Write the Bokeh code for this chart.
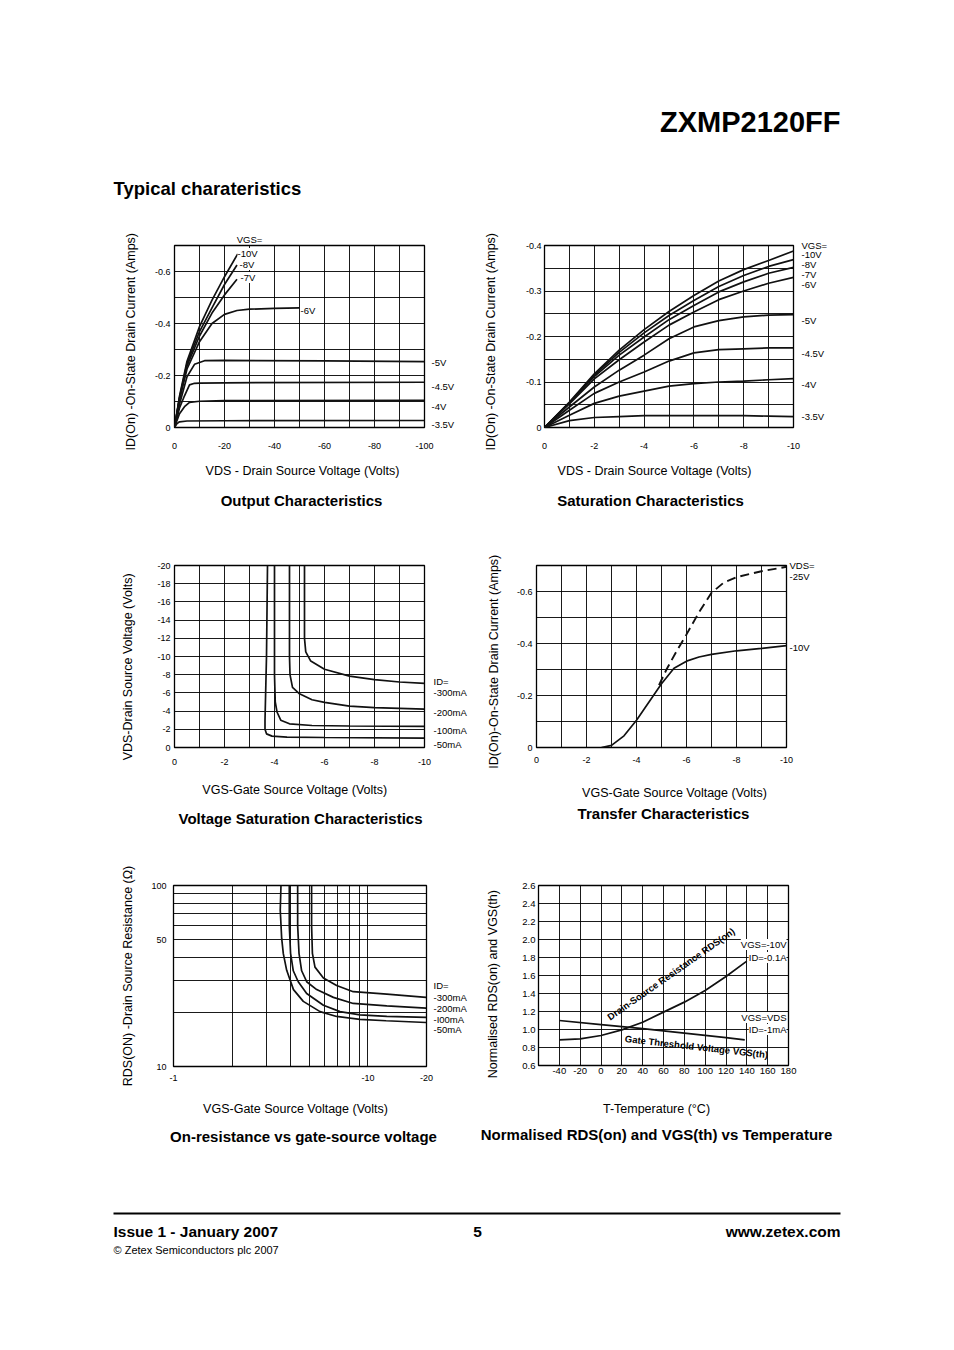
from math import pi, log10
from bokeh.plotting import figure
from bokeh.models import Range1d, FixedTicker, Label, LinearAxis, LogAxis, Spacer
from bokeh.layouts import column, row
from bokeh.embed import file_html
from bokeh.resources import INLINE

FONT = "Liberation Sans"
INK = "#111111"

# ---------------- data ----------------
# 1. Output characteristics  (VDS in V, ID in A), one curve per VGS
out_names = ["-10V", "-8V", "-7V", "-6V", "-5V", "-4.5V", "-4V", "-3.5V"]
out_vds = [
    [0, -2, -5, -10, -15, -20, -25.3],
    [0, -2, -5, -10, -15, -20, -25],
    [0, -2, -5, -10, -15, -20, -25],
    [0, -2, -5, -10, -15, -20, -25, -30, -40, -50],
    [0, -2, -5, -8, -10, -12, -20, -60, -100],
    [0, -2, -4, -6, -8, -10, -20, -100],
    [0, -1, -2, -4, -6, -10, -20, -100],
    [0, -1, -2, -5, -20, -100],
]
out_id = [
    [0, -0.12, -0.255, -0.388, -0.49, -0.58, -0.668],
    [0, -0.115, -0.246, -0.369, -0.46, -0.55, -0.625],
    [0, -0.112, -0.237, -0.352, -0.44, -0.51, -0.57],
    [0, -0.107, -0.225, -0.330, -0.40, -0.435, -0.45, -0.455, -0.458, -0.46],
    [0, -0.089, -0.195, -0.243, -0.250, -0.257, -0.258, -0.256, -0.253],
    [0, -0.075, -0.122, -0.164, -0.170, -0.171, -0.172, -0.174],
    [0, -0.027, -0.053, -0.080, -0.097, -0.101, -0.103, -0.104],
    [0, -0.015, -0.022, -0.025, -0.026, -0.027],
]

# 2. Saturation characteristics
sat_names = ["-10V", "-8V", "-7V", "-6V", "-5V", "-4.5V", "-4V", "-3.5V"]
sat_vds = [0, -1, -2, -3, -4, -5, -6, -7, -8, -9, -10]
sat_id = [
    [0, -0.056, -0.118, -0.170, -0.215, -0.255, -0.290, -0.322, -0.347, -0.367, -0.388],
    [0, -0.055, -0.115, -0.165, -0.208, -0.246, -0.279, -0.310, -0.334, -0.354, -0.369],
    [0, -0.054, -0.112, -0.159, -0.199, -0.237, -0.268, -0.298, -0.320, -0.339, -0.352],
    [0, -0.052, -0.107, -0.149, -0.188, -0.225, -0.254, -0.281, -0.300, -0.317, -0.330],
    [0, -0.045, -0.089, -0.126, -0.159, -0.195, -0.221, -0.235, -0.243, -0.247, -0.248],
    [0, -0.038, -0.075, -0.100, -0.122, -0.146, -0.164, -0.171, -0.173, -0.175, -0.175],
    [0, -0.027, -0.053, -0.069, -0.080, -0.091, -0.0965, -0.100, -0.102, -0.105, -0.1075],
    [0, -0.015, -0.022, -0.024, -0.026, -0.026, -0.026, -0.026, -0.026, -0.025, -0.024],
]

# 3. Voltage saturation characteristics (VGS -> VDS), one curve per ID
vsat_names = ["-300mA", "-200mA", "-100mA", "-50mA"]
vsat_vgs = [
    [-5.2, -5.2, -5.25, -5.45, -6.0, -7.0, -8.0, -9.0, -10.0],
    [-4.6, -4.6, -4.62, -4.72, -5.0, -5.5, -6.0, -7.0, -8.0, -10.0],
    [-4.0, -4.0, -4.03, -4.1, -4.25, -4.6, -5.5, -7.0, -10.0],
    [-3.72, -3.68, -3.62, -3.62, -3.68, -3.9, -4.5, -6.0, -10.0],
]
vsat_vds = [
    [-20, -12, -10.5, -9.5, -8.6, -7.85, -7.45, -7.2, -7.05],
    [-20, -10, -8.0, -6.6, -5.9, -5.25, -4.95, -4.55, -4.38, -4.22],
    [-20, -8, -5.0, -3.9, -3.0, -2.6, -2.42, -2.36, -2.32],
    [-20, -10, -3.0, -2.0, -1.5, -1.25, -1.15, -1.1, -1.03],
]

# 4. Transfer characteristics
tr_vgs_10 = [-2.6, -3.0, -3.5, -4.0, -4.5, -5.0, -5.5, -6.0, -6.5, -7.0, -8.0, -9.0, -10.0]
tr_id_10 = [0, -0.008, -0.045, -0.105, -0.175, -0.245, -0.305, -0.332, -0.348, -0.358, -0.372, -0.381, -0.392]
tr_vgs_25 = [-4.9, -5.2, -5.6, -6.0, -6.5, -7.0, -7.5, -8.0, -9.0, -10.0]
tr_id_25 = [-0.24, -0.30, -0.37, -0.435, -0.52, -0.595, -0.635, -0.655, -0.678, -0.695]

# 5. On-resistance vs gate-source voltage (|VGS| in V, RDS in ohm)
ron_names = ["-300mA", "-200mA", "-I00mA", "-50mA"]
ron_vgs = [
    [5.13, 5.13, 5.18, 5.34, 5.9, 6.9, 8.4, 12.5, 19.9],
    [4.35, 4.35, 4.42, 4.56, 4.84, 5.45, 6.64, 8.4, 12.5, 19.9],
    [3.94, 3.94, 4.0, 4.13, 4.38, 4.84, 5.9, 7.18, 9.1, 12.5, 19.9],
    [3.57, 3.54, 3.60, 3.67, 3.82, 4.14, 4.65, 5.67, 6.9, 9.1, 12.4, 19.9],
]
ron_r = [
    [100, 60, 42.2, 35.4, 30.8, 28.0, 25.9, 25.1, 24.1],
    [100, 60, 42.2, 33.8, 29.4, 26.6, 24.1, 22.3, 21.6, 21.0],
    [100, 60, 42.2, 33.8, 29.4, 25.3, 21.8, 20.1, 19.3, 18.9, 18.7],
    [100, 73, 51, 42, 34, 26.6, 22.9, 20.1, 18.9, 18.2, 17.9, 17.5],
]

# 6. Normalised RDS(on) and VGS(th) vs temperature
temp_rds = [-40, -20, 0, 20, 40, 60, 80, 100, 120, 140]
norm_rds = [0.885, 0.896, 0.933, 0.996, 1.081, 1.193, 1.304, 1.433, 1.589, 1.76]
temp_vth = [-40, 0, 40, 80, 120, 138]
norm_vth = [1.10, 1.055, 1.01, 0.96, 0.91, 0.885]


# ---------------- helpers ----------------
AX = "12.5px"
CAP = "15px"
NB = "\u00a0"


def chart(xr, yr, fw, fh, bl, br, bt, bb, xtype="linear", ytype="linear"):
    p = figure(x_range=xr, y_range=yr, frame_width=fw, frame_height=fh,
               min_border_left=bl, min_border_right=br, min_border_top=bt, min_border_bottom=bb,
               x_axis_type=xtype, y_axis_type=ytype, output_backend="svg", toolbar_location=None)
    p.background_fill_color = "white"
    p.border_fill_color = "white"
    p.outline_line_color = "black"
    p.outline_line_width = 1.3
    p.outline_line_alpha = 1.0
    return p


def plain_axis(ax, size="9px", standoff=4):
    ax.axis_line_color = None
    ax.major_tick_line_color = None
    ax.minor_tick_line_color = None
    ax.major_tick_in = 0
    ax.major_tick_out = 0
    ax.minor_tick_in = 0
    ax.minor_tick_out = 0
    ax.major_label_text_font = FONT
    ax.major_label_text_font_size = size
    ax.major_label_text_color = "black"
    ax.major_label_standoff = standoff


def axes(p, xt, xl, xg, yt, yl, yg, xs, ys, ylabel, ylab_standoff, size="9px"):
    p.xaxis.ticker = FixedTicker(ticks=xt)
    p.xaxis.major_label_overrides = dict(zip(xt, xl))
    p.yaxis.ticker = FixedTicker(ticks=yt)
    p.yaxis.major_label_overrides = dict(zip(yt, yl))
    p.xgrid.ticker = FixedTicker(ticks=xg)
    p.ygrid.ticker = FixedTicker(ticks=yg)
    p.grid.grid_line_color = "black"
    p.grid.grid_line_alpha = 1.0
    p.grid.grid_line_width = 0.9
    plain_axis(p.xaxis[0], size, xs)
    plain_axis(p.yaxis[0], size, ys)
    ya = p.yaxis[0]
    ya.axis_label = ylabel
    ya.axis_label_standoff = ylab_standoff
    ya.axis_label_text_font = FONT
    ya.axis_label_text_font_size = AX
    ya.axis_label_text_font_style = "normal"
    ya.axis_label_text_color = "black"


def side_labels(p, ticks, names, standoff, side="right", log=False):
    """An extra axis used only to write curve names next to the frame."""
    ax = LogAxis() if log else LinearAxis()
    ax.ticker = FixedTicker(ticks=ticks)
    ax.major_label_overrides = dict(zip(ticks, names))
    plain_axis(ax, "9.5px", standoff)
    p.add_layout(ax, side)


def y_at(frame_bottom, frame_h, rng, py, log=False):
    """Value on a y range that sits at screen row py."""
    f = (frame_bottom - py) / frame_h
    if log:
        return 10 ** (log10(rng[0]) + f * (log10(rng[1]) - log10(rng[0])))
    return rng[0] + f * (rng[1] - rng[0])


def inlab(p, frame, px, py, text, size="9.5px", align="left", bg="white"):
    fl, fb = frame
    lab = Label(x=px - fl, y=fb - py, x_units="screen", y_units="screen", text=text,
                text_font=FONT, text_font_size=size, text_align=align,
                text_baseline="middle", text_color="black")
    if bg:
        lab.background_fill_color = bg
    p.add_layout(lab)


def page_fig(x0, x1, y0, y1):
    p = figure(width=x1 - x0, height=y1 - y0, x_range=Range1d(x0, x1), y_range=Range1d(y1, y0),
               x_axis_location=None, y_axis_location=None, output_backend="svg",
               toolbar_location=None, min_border=0)
    p.xgrid.visible = False
    p.ygrid.visible = False
    p.outline_line_color = None
    p.background_fill_color = "white"
    p.border_fill_color = "white"
    return p


def ptxt(p, x, y, text, size, style="normal", align="left", angle=0.0):
    p.add_layout(Label(x=x, y=y, text=text, text_font=FONT, text_font_size=size,
                       text_font_style=style, text_align=align, text_baseline="middle",
                       text_color="black", angle=angle))


# ---------------- chart 1 ----------------
F1 = (174, 427)
R1 = (0, -0.7)
p1 = chart(Range1d(0, -100), Range1d(*R1), 250, 182, 74, 46, 30, 30)
axes(p1, [0, -20, -40, -60, -80, -100], ["0", "-20", "-40", "-60", "-80", "-100"],
     [0, -10, -20, -30, -40, -50, -60, -70, -80, -90, -100],
     [0, -0.2, -0.4, -0.6], ["0", "-0.2", "-0.4", "-0.6"],
     [0, -0.1, -0.2, -0.3, -0.4, -0.5, -0.6, -0.7], 15, 4,
     "ID(On) -On-State Drain Current (Amps)" + NB * 3, 14)
for xs, ys in zip(out_vds, out_id):
    p1.line(xs, ys, line_color=INK, line_width=1.7)
for name, (px, py) in zip(out_names[:4], [(237, 253), (239, 264), (240, 277), (300, 310)]):
    inlab(p1, F1, px, py, name)
side_labels(p1, [y_at(427, 182, R1, v) for v in (362, 386, 406, 424)], out_names[4:], 7)
side_labels(p1, [-30], ["VGS="], 1, side="above")

# ---------------- chart 2 ----------------
R2 = (0, -0.4)
p2 = chart(Range1d(0, -10), Range1d(*R2), 249, 182, 74, 45, 30, 30)
axes(p2, [0, -2, -4, -6, -8, -10], ["0", "-2", "-4", "-6", "-8", "-10"],
     [0, -1, -2, -3, -4, -5, -6, -7, -8, -9, -10],
     [0, -0.1, -0.2, -0.3, -0.4], ["0", "-0.1", "-0.2", "-0.3", "-0.4"],
     [0, -0.05, -0.1, -0.15, -0.2, -0.25, -0.3, -0.35, -0.4], 15, 3,
     "ID(On) -On-State Drain Current (Amps)" + NB * 3, 25)
for ys in sat_id:
    p2.line(sat_vds, ys, line_color=INK, line_width=1.7)
side_labels(p2, [y_at(427, 182, R2, v) for v in (245, 254, 264, 274, 284, 320, 353, 384, 416)],
            ["VGS="] + sat_names, 8)

# ---------------- chart 3 ----------------
R3 = (0, -20)
p3 = chart(Range1d(0, -10), Range1d(*R3), 250, 182, 74, 46, 30, 30)
axes(p3, [0, -2, -4, -6, -8, -10], ["0", "-2", "-4", "-6", "-8", "-10"],
     [0, -1, -2, -3, -4, -5, -6, -7, -8, -9, -10],
     [0, -2, -4, -6, -8, -10, -12, -14, -16, -18, -20],
     ["0", "-2", "-4", "-6", "-8", "-10", "-12", "-14", "-16", "-18", "-20"],
     [0, -2, -4, -6, -8, -10, -12, -14, -16, -18, -20], 11, 4,
     "VDS-Drain Source  Voltage (Volts)" + NB * 5, 19)
for xs, ys in zip(vsat_vgs, vsat_vds):
    p3.line(xs, ys, line_color=INK, line_width=1.7)
side_labels(p3, [y_at(747, 182, R3, v) for v in (681, 692, 712, 730, 744)],
            ["ID="] + vsat_names, 9)

# ---------------- chart 4 ----------------
R4 = (0, -0.7)
p4 = chart(Range1d(0, -10), Range1d(*R4), 250, 182, 66, 52, 30, 30)
axes(p4, [0, -2, -4, -6, -8, -10], ["0", "-2", "-4", "-6", "-8", "-10"],
     [0, -1, -2, -3, -4, -5, -6, -7, -8, -9, -10],
     [0, -0.2, -0.4, -0.6], ["0", "-0.2", "-0.4", "-0.6"],
     [0, -0.1, -0.2, -0.3, -0.4, -0.5, -0.6, -0.7], 9, 4,
     "ID(On)-On-State Drain Current  (Amps)" + NB * 2, 13)
p4.line(tr_vgs_10, tr_id_10, line_color=INK, line_width=1.7)
p4.line(tr_vgs_25, tr_id_25, line_color=INK, line_width=1.9, line_dash="9 5")
side_labels(p4, [y_at(747, 182, R4, v) for v in (565, 576, 647)], ["VDS=", "-25V", "-10V"], 3)

# ---------------- chart 5 ----------------
R5 = (10, 100)
p5 = chart(Range1d(1, 20), Range1d(*R5), 253, 181, 73, 44, 33, 30, xtype="log", ytype="log")
axes(p5, [1, 10, 20], ["-1", "-10", "-20"], [1, 2, 3, 4, 5, 6, 7, 8, 9, 10, 20],
     [10, 50, 100], ["10", "50", "100"], [10, 20, 30, 40, 50, 60, 70, 80, 90, 100], 8, 7,
     "RDS(ON) -Drain Source Resistance (\u03a9)", 13)
for xs, ys in zip(ron_vgs, ron_r):
    p5.line(xs, ys, line_color=INK, line_width=1.7)
side_labels(p5, [y_at(1064, 181, R5, v, log=True) for v in (983, 995, 1006, 1017, 1027)],
            ["ID="] + ron_names, 7, log=True)

# ---------------- chart 6 ----------------
F6 = (538, 1065)
p6 = chart(Range1d(-60, 180), Range1d(0.6, 2.6), 250, 180, 68, 50, 35, 29)
yt6 = [0.6, 0.8, 1.0, 1.2, 1.4, 1.6, 1.8, 2.0, 2.2, 2.4, 2.6]
xt6 = [-40, -20, 0, 20, 40, 60, 80, 100, 120, 140, 160, 180]
axes(p6, xt6, [str(v) for v in xt6], [-60] + xt6,
     yt6, ["%.1f" % v for v in yt6], yt6, 2, 3,
     "Normalised RDS(on) and VGS(th)" + NB * 5, 19, size="9.5px")
p6.line(temp_rds, norm_rds, line_color=INK, line_width=1.7)
p6.line(temp_vth, norm_vth, line_color=INK, line_width=1.7)
p6.add_layout(Label(x=7, y=1.13, text="Drain-Source Resistance RDS(on)", angle=35 * pi / 180,
                    text_font=FONT, text_font_size="9.5px", text_font_style="bold",
                    text_baseline="middle", text_color="black"))
p6.add_layout(Label(x=23, y=0.90, text="Gate Threshold Voltage VGS(th)", angle=-6.5 * pi / 180,
                    text_font=FONT, text_font_size="9.5px", text_font_style="bold",
                    text_baseline="middle", text_color="black"))
inlab(p6, F6, 786, 944, "VGS=-10V", align="right")
inlab(p6, F6, 786, 957, "ID=-0.1A", align="right")
inlab(p6, F6, 786, 1017, "VGS=VDS", align="right")
inlab(p6, F6, 786, 1029, "ID=-1mA", align="right")

# ---------------- page strips (titles, x-axis names, captions) ----------------
head = page_fig(0, 938, 0, 215)
ptxt(head, 840, 121, "ZXMP2120FF", "29px", "bold", "right")
ptxt(head, 113, 188, "Typical charateristics", "18.5px", "bold")

cap1 = page_fig(0, 938, 457, 535)
ptxt(cap1, 302, 470, "VDS - Drain Source Voltage (Volts)", AX, align="center")
ptxt(cap1, 654, 470, "VDS - Drain Source Voltage (Volts)", AX, align="center")
ptxt(cap1, 301, 500, "Output Characteristics", CAP, "bold", "center")
ptxt(cap1, 650, 500, "Saturation Characteristics", CAP, "bold", "center")

cap2 = page_fig(0, 938, 777, 850)
ptxt(cap2, 296, 789, "VGS-Gate Source Voltage  (Volts)", AX, align="center")
ptxt(cap2, 674, 792, "VGS-Gate Source Voltage (Volts)", AX, align="center")
ptxt(cap2, 300, 818, "Voltage Saturation Characteristics", CAP, "bold", "center")
ptxt(cap2, 663, 813, "Transfer Characteristics", CAP, "bold", "center")

cap3 = page_fig(0, 938, 1094, 1160)
ptxt(cap3, 295, 1108, "VGS-Gate Source Voltage (Volts)", AX, align="center")
ptxt(cap3, 656, 1108, "T-Temperature (\u00b0C)", AX, align="center")
ptxt(cap3, 303, 1136, "On-resistance vs gate-source voltage", CAP, "bold", "center")
ptxt(cap3, 656, 1134, "Normalised RDS(on) and VGS(th) vs Temperature", CAP, "bold", "center")

foot = page_fig(0, 938, 1160, 1290)
foot.segment(x0=[113], y0=[1213], x1=[840], y1=[1213], line_color="black", line_width=2)
ptxt(foot, 113, 1231, "Issue 1 - January 2007", "15.5px", "bold")
ptxt(foot, 477, 1231, "5", "15.5px", "bold", "center")
ptxt(foot, 840, 1231, "www.zetex.com", "15.5px", "bold", "right")
ptxt(foot, 113, 1249, "\u00a9 Zetex Semiconductors plc 2007", "11px")

layout = column(
    head,
    row(Spacer(width=100, height=242), p1, p2),
    cap1,
    row(Spacer(width=100, height=242), p3, p4),
    cap2,
    row(Spacer(width=100, height=244), p5, p6),
    cap3,
    foot,
)

open("out.html", "w").write(file_html(layout, INLINE))
